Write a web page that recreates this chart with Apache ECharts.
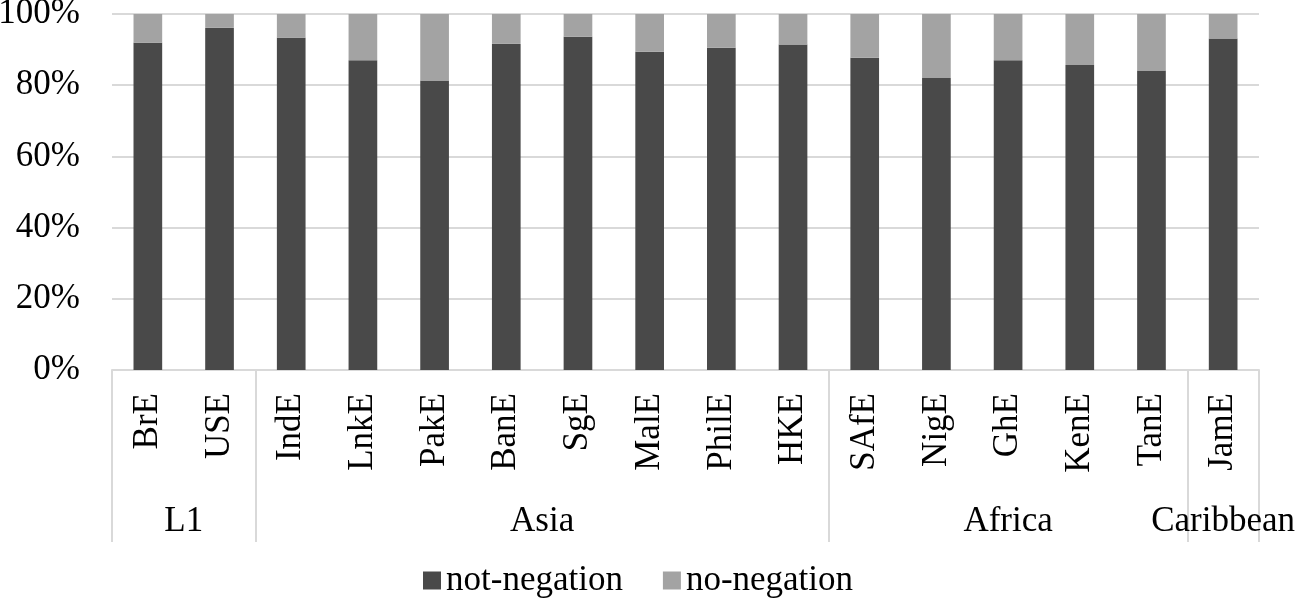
<!DOCTYPE html>
<html>
<head>
<meta charset="utf-8">
<script src="https://cdn.jsdelivr.net/npm/echarts@6.0.0/dist/echarts.min.js"></script>
<style>
    html, body {margin: 0; padding: 0; background: #fff;}
    #chart {width: 1300px; height: 605px;}
</style>
</head>
<body>
<div id="chart"></div>
<script>
const categories = ['BrE', 'USE', 'IndE', 'LnkE', 'PakE', 'BanE', 'SgE', 'MalE', 'PhilE', 'HKE', 'SAfE', 'NigE', 'GhE', 'KenE', 'TanE', 'JamE'];
const notNegation = [91.9, 96.1, 93.3, 87.0, 81.3, 91.6, 93.6, 89.4, 90.5, 91.4, 87.7, 82.0, 87.0, 85.7, 84.1, 93.1];
const noNegation = [8.1, 3.9, 6.7, 13.0, 18.7, 8.4, 6.4, 10.6, 9.5, 8.6, 12.3, 18.0, 13.0, 14.3, 15.9, 6.9];

// region groups under the categories (index of first / last category)
const groups = ['L1', 'Asia', 'Africa', 'Caribbean'];
const groupFirst = [0, 2, 10, 15];
const groupLast = [1, 9, 14, 15];

const yTicks = [0, 20, 40, 60, 80, 100];

const font = '"Liberation Serif", "Times New Roman", serif';
const gridColor = '#d9d9d9';

const boundaries = groupFirst.map(i => i - 0.5).concat([groupLast[groupLast.length - 1] + 0.5]);
const groupCenters = groupFirst.map((f, i) => (f + groupLast[i]) / 2);

const chart = echarts.init(document.getElementById('chart'));

const option = {
    animation: false,
    textStyle: {fontFamily: font},
    grid: {left: 112, right: 41, top: 14, bottom: 235, outerBoundsMode: 'none'},
    legend: {
        left: 418,
        bottom: 2,
        icon: 'rect',
        itemWidth: 18,
        itemHeight: 18,
        itemGap: 40,
        textStyle: {fontFamily: font, fontSize: 35, color: '#000'},
        data: ['not-negation', 'no-negation']
    },
    xAxis: [
        {
            type: 'category',
            data: categories,
            axisLine: {lineStyle: {color: gridColor, width: 2}},
            axisTick: {show: false},
            axisLabel: {
                rotate: 90,
                margin: 23,
                fontFamily: font,
                fontSize: 35,
                color: '#000',
                interval: 0
            }
        },
        {
            // group row: separators as long ticks, group names centred
            type: 'value',
            position: 'bottom',
            min: -0.5,
            max: categories.length - 0.5,
            axisLine: {show: false},
            splitLine: {show: false},
            axisTick: {
                show: true,
                customValues: boundaries,
                length: 172,
                lineStyle: {color: gridColor, width: 2}
            },
            axisLabel: {
                customValues: groupCenters,
                margin: 134,
                fontFamily: font,
                fontSize: 35,
                color: '#000',
                formatter: function (v) {
                    const i = groupCenters.indexOf(v);
                    return i >= 0 ? groups[i] : '';
                }
            }
        }
    ],
    yAxis: {
        type: 'value',
        min: yTicks[0],
        max: yTicks[yTicks.length - 1],
        interval: 20,
        axisLine: {show: false},
        axisTick: {show: false},
        splitLine: {lineStyle: {color: gridColor, width: 2}},
        axisLabel: {
            formatter: '{value}%',
            margin: 32,
            fontFamily: font,
            fontSize: 35,
            color: '#000'
        }
    },
    series: [
        {
            name: 'not-negation',
            type: 'bar',
            stack: 'total',
            barWidth: '40%',
            itemStyle: {color: '#494949'},
            data: notNegation
        },
        {
            name: 'no-negation',
            type: 'bar',
            stack: 'total',
            barWidth: '40%',
            itemStyle: {color: '#a3a3a3'},
            data: noNegation
        }
    ]
};

chart.setOption(option);
</script>
</body>
</html>
